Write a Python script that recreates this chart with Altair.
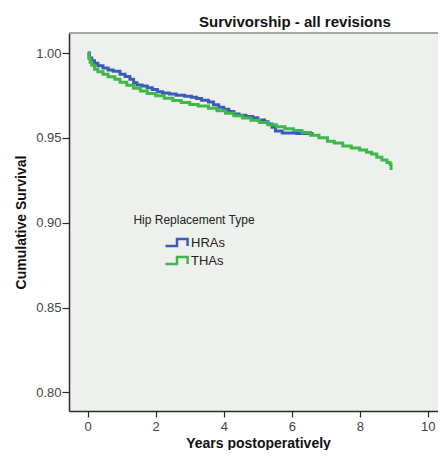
import altair as alt
import pandas as pd

hra_years = [0.00, 0.05, 0.12, 0.20, 0.30, 0.45, 0.60, 0.75, 0.95, 1.10, 1.24, 1.35, 1.45, 1.60,
             1.75, 1.90, 2.05, 2.20, 2.40, 2.60, 2.85, 3.05, 3.20, 3.35, 3.55, 3.70, 3.85, 4.00,
             4.15, 4.30, 4.45, 4.65, 4.85, 5.00, 5.20, 5.30, 5.42, 5.52, 5.72, 6.15, 6.64]
hra_surv = [1.000, 0.9970, 0.9955, 0.9940, 0.9925, 0.9912, 0.9900, 0.9892, 0.9875, 0.9862, 0.9845,
            0.9825, 0.9812, 0.9806, 0.9796, 0.9785, 0.9772, 0.9765, 0.9758, 0.9751, 0.9745, 0.9740,
            0.9732, 0.9722, 0.9712, 0.9695, 0.9680, 0.9668, 0.9655, 0.9640, 0.9633, 0.9626, 0.9618,
            0.9605, 0.9595, 0.9582, 0.9562, 0.9540, 0.9528, 0.9526, 0.9526]

tha_years = [0.00, 0.03, 0.07, 0.12, 0.20, 0.30, 0.45, 0.60, 0.80, 0.95, 1.15, 1.35, 1.55, 1.75,
             2.00, 2.25, 2.50, 2.75, 3.00, 3.25, 3.55, 3.80, 4.05, 4.30, 4.55, 4.80, 5.05, 5.30,
             5.55, 5.80, 6.05, 6.30, 6.55, 6.80, 7.05, 7.25, 7.50, 7.75, 8.00, 8.20, 8.35, 8.50,
             8.65, 8.80, 8.89, 8.92]
tha_surv = [1.000, 0.9970, 0.9945, 0.9928, 0.9905, 0.9890, 0.9875, 0.9860, 0.9845, 0.9828, 0.9810,
            0.9792, 0.9776, 0.9762, 0.9748, 0.9733, 0.9720, 0.9708, 0.9697, 0.9687, 0.9674, 0.9660,
            0.9645, 0.9630, 0.9617, 0.9604, 0.9590, 0.9577, 0.9566, 0.9554, 0.9543, 0.9531, 0.9516,
            0.9500, 0.9480, 0.9470, 0.9452, 0.9440, 0.9428, 0.9415, 0.9405, 0.9385, 0.9370, 0.9355,
            0.9345, 0.9310]

groups = ["HRAs", "THAs"]
colors = ["#3A5CB8", "#3FB84A"]
x_ticks = [0, 2, 4, 6, 8, 10]
y_ticks = [0.80, 0.85, 0.90, 0.95, 1.00]

df = pd.concat([
    pd.DataFrame({"years": hra_years, "surv": hra_surv, "type": groups[0]}),
    pd.DataFrame({"years": tha_years, "surv": tha_surv, "type": groups[1]}),
])

step_symbol = "M-1,0.3H0V-0.3H0.92V0.3"

lines = alt.Chart(df).mark_line(interpolate="step-after", strokeWidth=3).encode(
    x=alt.X("years:Q", scale=alt.Scale(domain=[-0.55, 10.30], nice=False, zero=False),
            axis=alt.Axis(title="Years postoperatively", values=x_ticks, format="d",
                          titleX=189, titleY=36, titleBaseline="alphabetic",
                          labelPadding=3)),
    y=alt.Y("surv:Q", scale=alt.Scale(domain=[0.789, 1.0118], nice=False, zero=False),
            axis=alt.Axis(title="Cumulative Survival", values=y_ticks, format=".2f",
                          titleX=-44, titleBaseline="alphabetic")),
    color=alt.Color("type:N", scale=alt.Scale(domain=groups, range=colors),
                    legend=alt.Legend(title="Hip Replacement Type", orient="none",
                                      legendX=64, legendY=182, symbolType=step_symbol,
                                      symbolSize=529, symbolStrokeWidth=2.5,
                                      symbolFillColor="transparent",
                                      titleAnchor="middle", clipHeight=15, rowPadding=3,
                                      titlePadding=8, labelOffset=1,
                                      titleFont="Liberation Sans", titleFontSize=12,
                                      titleFontWeight="normal", titleColor="#222222",
                                      labelFont="Liberation Sans", labelFontSize=13,
                                      labelColor="#222222")),
)

top_border = alt.Chart(pd.DataFrame({"edge": [0]})).mark_rule(
    color="#8C8C8C", strokeWidth=1.5
).encode(y=alt.value(0))

chart = alt.layer(lines, top_border).properties(
    width=369, height=378,
    autosize=alt.AutoSizeParams(type="none"),
    padding={"left": 61, "top": 25, "right": 0, "bottom": 39},
    title=alt.TitleParams("Survivorship - all revisions", anchor="start", frame="group",
                          dx=130, dy=16, fontSize=15, fontWeight="bold",
                          font="Liberation Sans", color="#111111",
                          baseline="alphabetic", offset=6),
).configure_view(
    fill="#EEF0EE", stroke=None
).configure_axis(
    grid=False, domainColor="#2A2A2A", domainWidth=1.5, tickColor="#2A2A2A",
    tickWidth=1.2, tickSize=6, labelFont="Liberation Sans", labelFontSize=13,
    labelColor="#444444", titleFont="Liberation Sans", titleFontSize=14,
    titleFontWeight="bold", titleColor="#111111", labelPadding=3
).configure_axisY(tickSize=7, labelPadding=1)

chart.save("out.html", embed_options={"renderer": "svg", "actions": False})
